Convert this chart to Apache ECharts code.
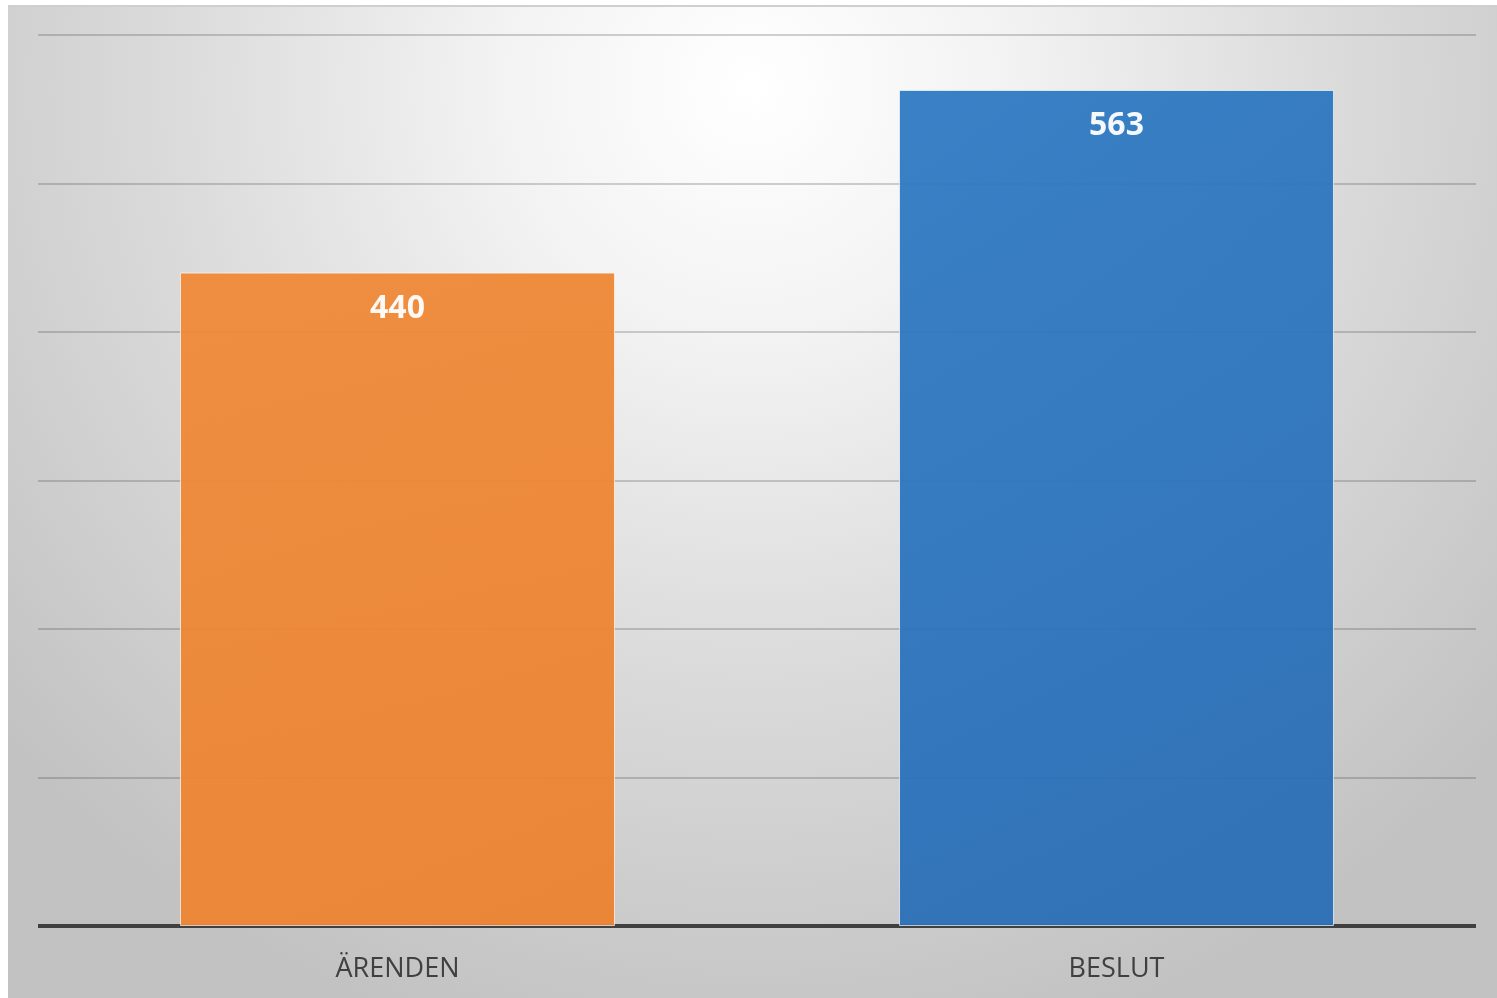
<!DOCTYPE html>
<html>
<head>
<meta charset="utf-8">
<script src="https://cdn.jsdelivr.net/npm/echarts@6/dist/echarts.min.js"></script>
<style>
  html, body { margin: 0; padding: 0; background: #fff; }
  #main { position: absolute; left: 8px; top: 5px; width: 1489px; height: 993px; border-top: 2px solid #cfcfcf; box-sizing: border-box; }
</style>
</head>
<body>
<div id="main"></div>
<script>
// kategorier och värden
var categories = ['ÄRENDEN', 'BESLUT'];
var values = [440, 563];
var barColors = [['#F08A38', '#EB8230'], ['#2F7AC3', '#2A6DB5']];

var chart = echarts.init(document.getElementById('main'));

var option = {
    backgroundColor: {
        type: 'radial', x: 0.5, y: 0.08, r: 1.0,
        colorStops: [
            { offset: 0, color: '#ffffff' },
            { offset: 0.25, color: '#f3f3f3' },
            { offset: 0.6, color: '#dadada' },
            { offset: 1, color: '#c2c2c2' }
        ]
    },
    grid: { left: 30, right: 21, top: 28, bottom: 72 },
    xAxis: {
        type: 'category',
        data: categories,
        axisLine: { lineStyle: { color: '#404040', width: 4, cap: 'butt' } },
        axisTick: { show: false },
        axisLabel: {
            color: '#404040', fontSize: 27, fontFamily: 'Open Sans',
            margin: 30
        }
    },
    yAxis: {
        type: 'value',
        min: 0, max: 600, interval: 100,
        axisLine: { show: false },
        axisTick: { show: false },
        axisLabel: { show: false },
        splitLine: { lineStyle: { color: 'rgba(50,50,50,0.3)', width: 1.5 } }
    },
    series: [{
        type: 'bar',
        barWidth: '60.5%',
        data: values.map(function (v, i) {
            return {
                value: v,
                itemStyle: {
                    color: {
                        type: 'linear', x: 0, y: 0, x2: 1, y2: 1,
                        colorStops: [
                            { offset: 0, color: barColors[i][0] },
                            { offset: 1, color: barColors[i][1] }
                        ]
                    }
                }
            };
        }),
        itemStyle: { borderColor: 'rgba(255,255,255,0.7)', borderWidth: 1, opacity: 0.95 },
        label: {
            show: true, position: 'insideTop', distance: 20,
            color: '#fff', fontSize: 32, fontWeight: 'bold', fontFamily: 'Open Sans'
        }
    }]
};

chart.setOption(option);
</script>
</body>
</html>
